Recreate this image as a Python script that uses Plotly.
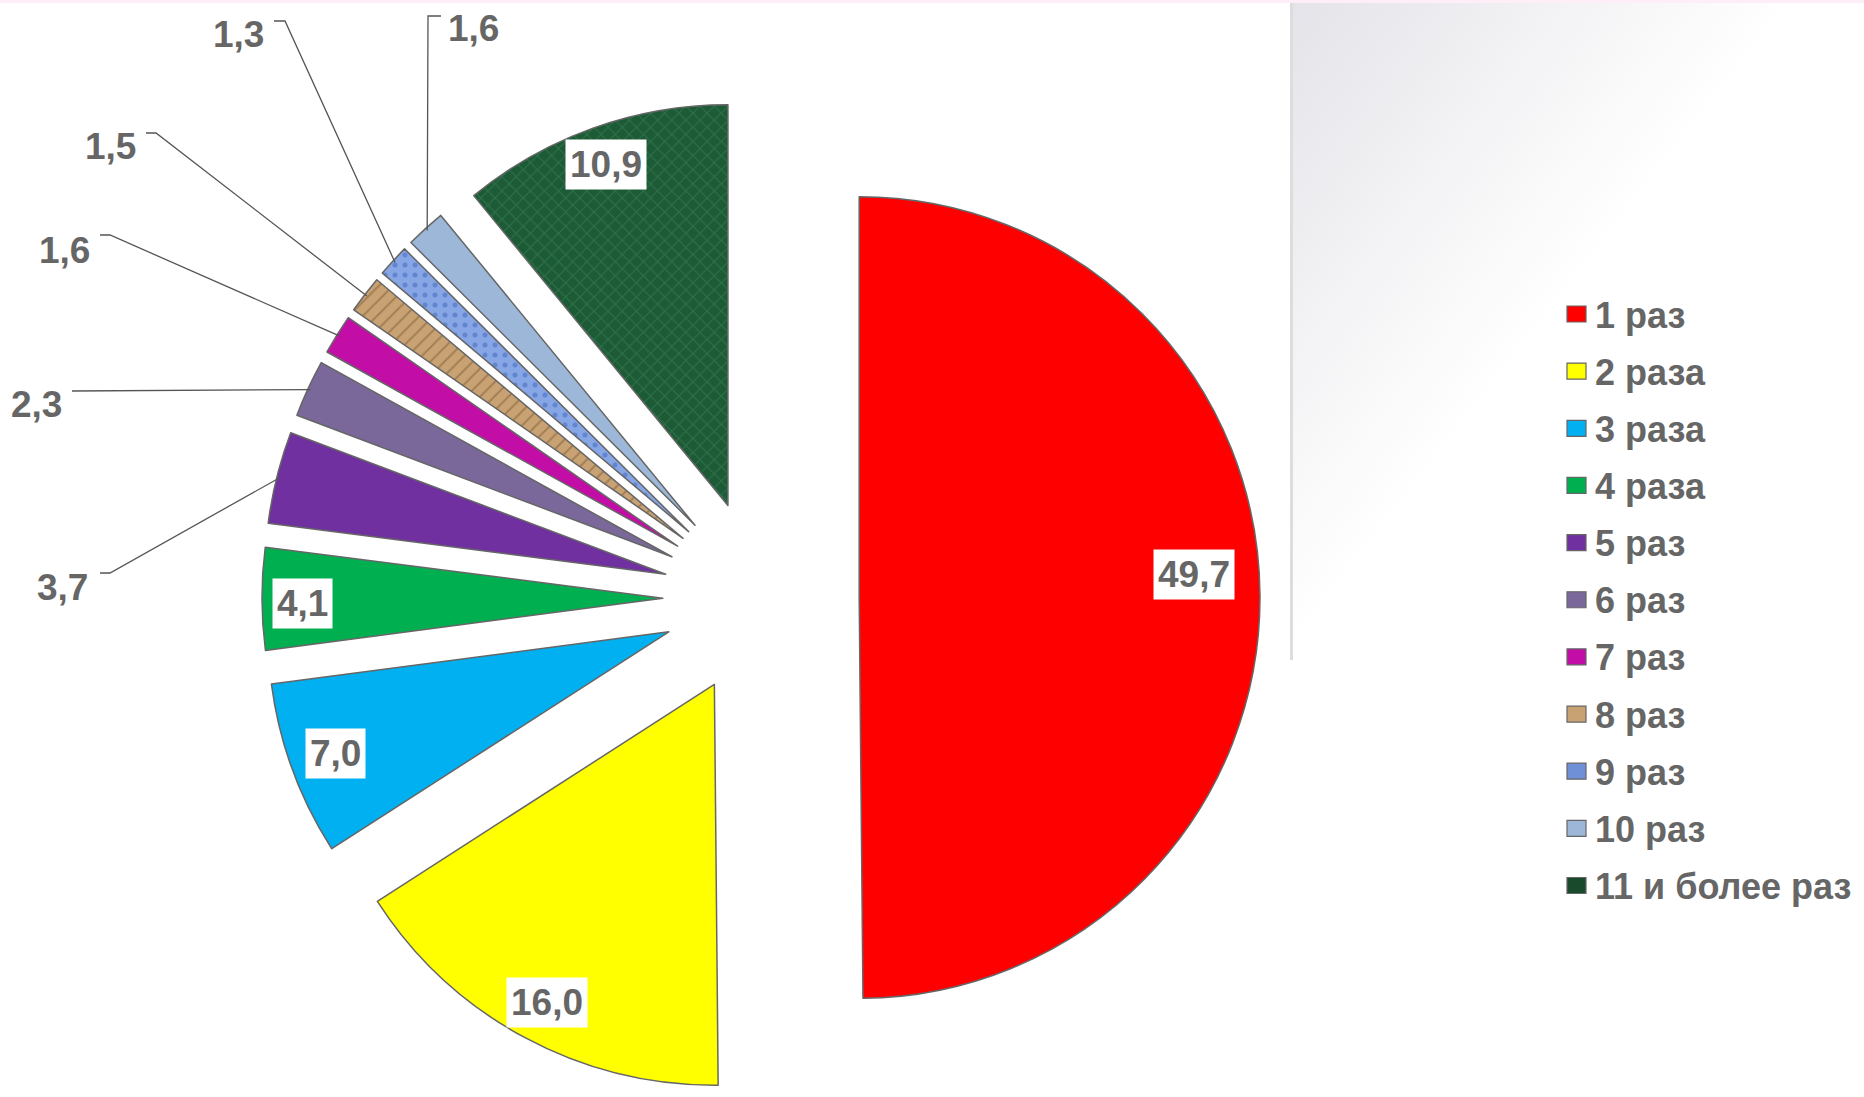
import math
import base64
import plotly.graph_objects as go

# ---------------- data ----------------
categories = ["1 раз", "2 раза", "3 раза", "4 раза", "5 раз", "6 раз", "7 раз",
              "8 раз", "9 раз", "10 раз", "11 и более раз"]
values = [49.7, 16.0, 7.0, 4.1, 3.7, 2.3, 1.6, 1.5, 1.3, 1.6, 10.9]
value_labels = ["49,7", "16,0", "7,0", "4,1", "3,7", "2,3", "1,6", "1,5", "1,3", "1,6", "10,9"]

# ---------------- styles ----------------
colors = ["#ff0000", "#ffff00", "#00b0f0", "#00b050", "#7030a0", "#796899",
          "#c20da6", "#c9a274", "#86a6e6", "#9cb7d8", "#1d5a36"]
legend_colors = ["#ff0000", "#ffff00", "#00b0f0", "#00b050", "#7030a0", "#796899",
                 "#c20da6", "#c9a274", "#6f8fd6", "#9cb7d8", "#1a4a2c"]
pattern_shapes = ["", "", "", "", "", "", "", "/", ".", "", "x"]
pattern_fg = ["#000", "#000", "#000", "#000", "#000", "#000", "#000",
              "#7a5a32", "#3f63b8", "#000", "#3f8a5e"]

W, H = 1864, 1097
CX, CY = 761, 598          # pie centre (pixels)
PULL = 0.245
HALF = H - CY              # pixels available from centre to bottom
TEXT = "#666666"
FONT = "Liberation Sans, Arial, sans-serif"
LABEL_SIZE = 37
LEGEND_SIZE = 36


def px(x):
    return x / W


def py(y):
    return 1 - y / H


fig = go.Figure()
fig.add_trace(go.Pie(
    labels=categories, values=values, sort=False, direction="clockwise", rotation=0,
    pull=[PULL] * len(values), textinfo="none", hoverinfo="label+value",
    marker=dict(colors=colors, line=dict(color="#666666", width=1.5),
                pattern=dict(shape=pattern_shapes, fgcolor=pattern_fg, size=10,
                             solidity=0.2, fillmode="overlay")),
    domain=dict(x=[px(CX - HALF), px(CX + HALF)], y=[0, 2 * HALF / H]),
    showlegend=False,
))

# slice mid-angle directions (clockwise from 12 o'clock)
total = sum(values)
dirs = []
acc = 0.0
for v in values:
    mid = (acc + v / 2) / total * 2 * math.pi
    dirs.append((math.sin(mid), -math.cos(mid)))
    acc += v

annotations = []
shapes = []

# boxed labels inside slices
boxed = {0: (1194, 574), 1: (547, 1002), 2: (335, 753), 3: (302, 603), 10: (606, 164)}
for i, (bx, by) in boxed.items():
    annotations.append(dict(x=px(bx), y=py(by), xref="paper", yref="paper", showarrow=False,
                            xanchor="center", yanchor="middle",
                            text="<b>%s</b>" % value_labels[i], bgcolor="#ffffff", borderpad=4,
                            font=dict(family=FONT, size=LABEL_SIZE, color=TEXT)))

# outside labels with leader lines: (text centre, line start, elbow)
outside = {
    4: ((62, 587), (100, 573), (110, 573)),
    5: ((36, 404), (72, 391), (72, 391)),
    6: ((64, 250), (100, 235), (110, 235)),
    7: ((110, 146), (146, 133), (156, 133)),
    8: ((238, 35), (274, 21), (285, 21)),
    9: ((474, 28), (441, 16), (428, 16)),
}
for i, (tpos, start, elbow) in outside.items():
    annotations.append(dict(x=px(tpos[0]), y=py(tpos[1]), xref="paper", yref="paper",
                            showarrow=False, xanchor="center", yanchor="middle",
                            text="<b>%s</b>" % value_labels[i],
                            font=dict(family=FONT, size=LABEL_SIZE, color=TEXT)))
    dx, dy = dirs[i]
    ex = CX + HALF * 0.995 * dx
    ey = CY + HALF * 0.995 * dy
    path = "M %f %f L %f %f L %f %f" % (px(start[0]), py(start[1]), px(elbow[0]), py(elbow[1]),
                                         px(ex), py(ey))
    shapes.append(dict(type="path", xref="paper", yref="paper", path=path,
                       line=dict(color="#555555", width=1.3)))

# custom legend
LX, LY0, LDY = 1567, 314, 57.15
for i, name in enumerate(categories):
    yc = LY0 + i * LDY
    shapes.append(dict(type="rect", xref="paper", yref="paper",
                       x0=px(LX), x1=px(LX + 19), y0=py(yc - 8), y1=py(yc + 8),
                       fillcolor=legend_colors[i], line=dict(color="#666666", width=1.2)))
    annotations.append(dict(x=px(LX + 26), y=py(yc + 1), xref="paper", yref="paper", showarrow=False,
                            xanchor="left", yanchor="middle", text="<b>%s</b>" % name,
                            font=dict(family=FONT, size=LEGEND_SIZE, color=TEXT)))

# faint pink top line
shapes.append(dict(type="rect", xref="paper", yref="paper", x0=0, x1=1, y0=py(3), y1=1,
                   fillcolor="#fdeef8", line=dict(width=0), layer="below"))

# grey gradient panel on the right
gw = W - 1290
svg = ('<svg xmlns="http://www.w3.org/2000/svg" width="%d" height="%d" viewBox="0 0 %d %d" '
       'preserveAspectRatio="none"><defs><linearGradient id="g" gradientUnits="userSpaceOnUse" '
       'x1="0" y1="0" x2="316" y2="245"><stop offset="0" stop-color="#e3e3e9"/>'
       '<stop offset="0.55" stop-color="#f3f3f5"/><stop offset="1" stop-color="#ffffff"/>'
       '</linearGradient></defs><rect width="%d" height="%d" fill="url(#g)"/>'
       '<rect x="0" y="0" width="3" height="660" fill="#dddddd"/></svg>') % (gw, H, gw, H, gw, H)
src = "data:image/svg+xml;base64," + base64.b64encode(svg.encode()).decode()

fig.update_layout(
    width=W, height=H, margin=dict(l=0, r=0, t=0, b=0),
    paper_bgcolor="#ffffff", plot_bgcolor="#ffffff",
    annotations=annotations, shapes=shapes,
    images=[dict(source=src, xref="paper", yref="paper", x=px(1290), y=1, sizex=gw / W, sizey=1,
                 xanchor="left", yanchor="top", sizing="stretch", layer="below")],
)

fig.write_html("out.html")
